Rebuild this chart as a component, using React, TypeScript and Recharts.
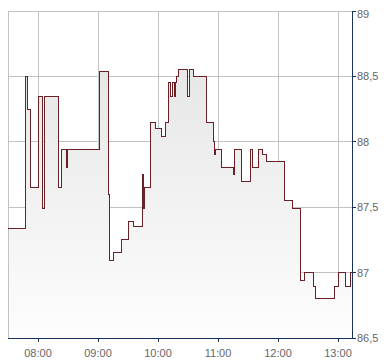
import React from "react";
import { ComposedChart, Area, Line, XAxis, YAxis, CartesianGrid, ReferenceLine } from "recharts";

// minutes after 07:30
const minutes = [0, 17, 19, 22, 30.5, 34.7, 36, 50, 53.3, 58.7, 59.7, 91.3, 100.7, 101.3, 105.3, 113.3, 120.7, 125.3, 134.7, 135.3, 136.3, 142.7, 147.3, 153.3, 157.3, 160.7, 162, 164.7, 166, 167.3, 168.7, 170.7, 179.3, 181.3, 185.3, 198.7, 205.3, 206.7, 207.3, 213.3, 225, 226, 233.3, 242.7, 244.7, 250, 254, 258, 276.3, 284, 292.3, 296.3, 305.7, 307.3, 326.3, 330.3, 337.3, 342, 344];
const prices = [87.34, 88.5, 88.25, 87.65, 88.35, 87.49, 88.35, 87.65, 87.94, 87.8, 87.94, 88.54, 87.6, 87.09, 87.15, 87.25, 87.39, 87.35, 87.75, 87.49, 87.65, 88.15, 88.1, 88.04, 88.15, 88.45, 88.35, 88.45, 88.35, 88.45, 88.5, 88.55, 88.35, 88.55, 88.5, 88.15, 88.0, 87.9, 87.94, 87.8, 87.75, 87.94, 87.7, 87.94, 87.8, 87.94, 87.9, 87.85, 87.55, 87.49, 86.94, 87.0, 86.89, 86.8, 86.89, 87.0, 86.89, 87.0, 87.0];

const xTicks = [30, 90, 150, 210, 270, 330];
const xTickLabels = ["08:00", "09:00", "10:00", "11:00", "12:00", "13:00"];
const yTicks = [86.5, 87, 87.5, 88, 88.5, 89];

const data = minutes.map((t, i) => ({ t, v: prices[i] }));

const NAVY = "#1a3160";
const GRID = "#c2c2c2";
const tickStyle = { fill: "#666", fontSize: 11, fontFamily: "'Liberation Sans', Arial, sans-serif" };

export default function App() {
  return (
    <div style={{ width: 382, height: 356, shapeRendering: "crispEdges" } as React.CSSProperties}>
      <ComposedChart width={382} height={356} data={data} margin={{ top: 3, right: 8, left: 0, bottom: 6 }}>
        <defs>
          <linearGradient id="fillG" x1="0" y1="3" x2="0" y2="330" gradientUnits="userSpaceOnUse">
            <stop offset="0" stopColor="#e2e2e2" />
            <stop offset="1" stopColor="#fdfdfd" />
          </linearGradient>
        </defs>
        <XAxis
          type="number"
          dataKey="t"
          domain={[0, 344]}
          ticks={xTicks}
          tickFormatter={(v: number) => xTickLabels[xTicks.indexOf(v)] ?? ""}
          axisLine={{ stroke: NAVY }}
          tickLine={{ stroke: NAVY }}
          tickSize={4}
          tickMargin={7}
          height={20}
          tick={tickStyle}
          allowDataOverflow
        />
        <YAxis
          orientation="right"
          type="number"
          domain={[86.5, 89]}
          ticks={yTicks}
          tickFormatter={(v: number) => String(v).replace(".", ",")}
          axisLine={{ stroke: NAVY }}
          tickLine={{ stroke: NAVY }}
          tickSize={4}
          tickMargin={1}
          width={30}
          tick={tickStyle}
          allowDataOverflow
        />
        <Area
          type="stepAfter"
          dataKey="v"
          stroke="none"
          fill="url(#fillG)"
          fillOpacity={1}
          isAnimationActive={false}
          dot={false}
          activeDot={false}
        />
        <CartesianGrid stroke={GRID} />
        <ReferenceLine x={0} stroke={GRID} />
        <Line
          type="stepAfter"
          dataKey="v"
          stroke="#6a2024"
          strokeWidth={1}
          isAnimationActive={false}
          dot={false}
          activeDot={false}
        />
      </ComposedChart>
    </div>
  );
}
